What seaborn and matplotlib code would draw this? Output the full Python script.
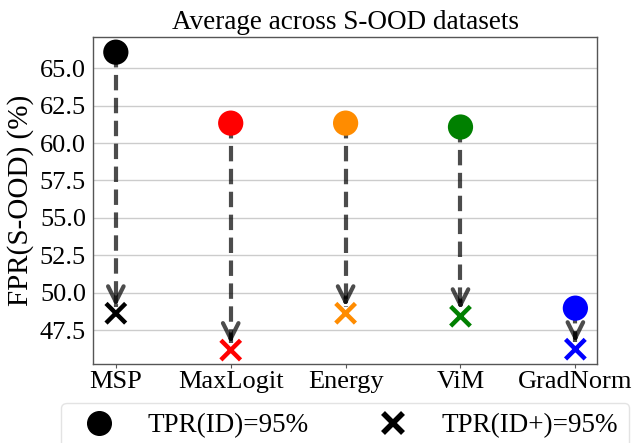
import numpy as np
import matplotlib
matplotlib.use("Agg")
import matplotlib.pyplot as plt
from matplotlib.lines import Line2D
import seaborn as sns

methods = ["MSP", "MaxLogit", "Energy", "ViM", "GradNorm"]
fpr_tpr_id = [66.07, 61.33, 61.33, 61.07, 48.97]
fpr_tpr_idplus = [48.63, 46.17, 48.63, 48.43, 46.23]
colors = ["black", "red", "darkorange", "green", "blue"]
yticks = [47.5, 50.0, 52.5, 55.0, 57.5, 60.0, 62.5, 65.0]

sns.set_style("whitegrid")
plt.rcParams["font.family"] = ["Liberation Serif", "DejaVu Serif"]
plt.rcParams["mathtext.fontset"] = "stix"
for k in ["text.color", "axes.labelcolor", "xtick.color", "ytick.color"]:
    plt.rcParams[k] = "black"

fig = plt.figure(figsize=(6.36, 4.43), dpi=100)
ax = fig.add_axes([0.146, 0.178, 0.793, 0.738])

pos = np.arange(len(methods))
pal = dict(zip(methods, colors))

# arrows (dashed shaft + solid head)
for i in range(len(methods)):
    top = fpr_tpr_id[i]
    tip = fpr_tpr_idplus[i] + 0.45
    ax.plot([pos[i], pos[i]], [top, tip], linestyle="--", color="black",
            alpha=0.7, lw=3, zorder=4, dashes=(3.7, 1.8))
    ax.annotate("", xy=(pos[i], tip), xytext=(pos[i], tip + 0.6),
                arrowprops=dict(arrowstyle="->", color="black", alpha=0.7,
                                lw=3, mutation_scale=28, shrinkA=0, shrinkB=0),
                zorder=4)

sns.scatterplot(x=pos, y=fpr_tpr_idplus, hue=methods, palette=pal, marker="x",
                s=200, linewidth=3.2, legend=False, ax=ax, zorder=3)
sns.scatterplot(x=pos, y=fpr_tpr_id, hue=methods, palette=pal, marker="o",
                s=330, linewidth=0, legend=False, ax=ax, zorder=5)

ax.set_xlim(-0.2, 4.19)
ax.set_ylim(45.23, 67.07)
ax.set_xticks(pos)
ax.set_xticklabels(methods)
ax.set_yticks(yticks)
ax.set_yticklabels([f"{v:.1f}" for v in yticks])
ax.tick_params(axis="both", labelsize=19, length=3, color="#555555", pad=2)
ax.tick_params(axis="x", bottom=True)
ax.grid(axis="x", visible=False)
ax.grid(axis="y", color="#cccccc", lw=1)
for s in ax.spines.values():
    s.set_color("#555555")
    s.set_linewidth(1)

ax.set_title("Average across S-OOD datasets", fontsize=19.5, pad=6)
ax.set_ylabel("FPR(S-OOD) (%)", fontsize=21, labelpad=4)

handles = [
    Line2D([], [], marker="o", color="black", linestyle="None", markersize=17),
    Line2D([], [], marker="x", color="black", linestyle="None", markersize=14,
           markeredgewidth=4),
]
ax.legend(handles, ["TPR(ID)=95%", "TPR(ID+)=95%"], loc="upper center",
          bbox_to_anchor=(0.5, -0.118), ncol=2, fontsize=19.5, frameon=True,
          columnspacing=2.1, handletextpad=0.8, borderpad=0.4,
          borderaxespad=0, edgecolor="#dddddd", fancybox=True)

fig.savefig("out.png", dpi=100)
